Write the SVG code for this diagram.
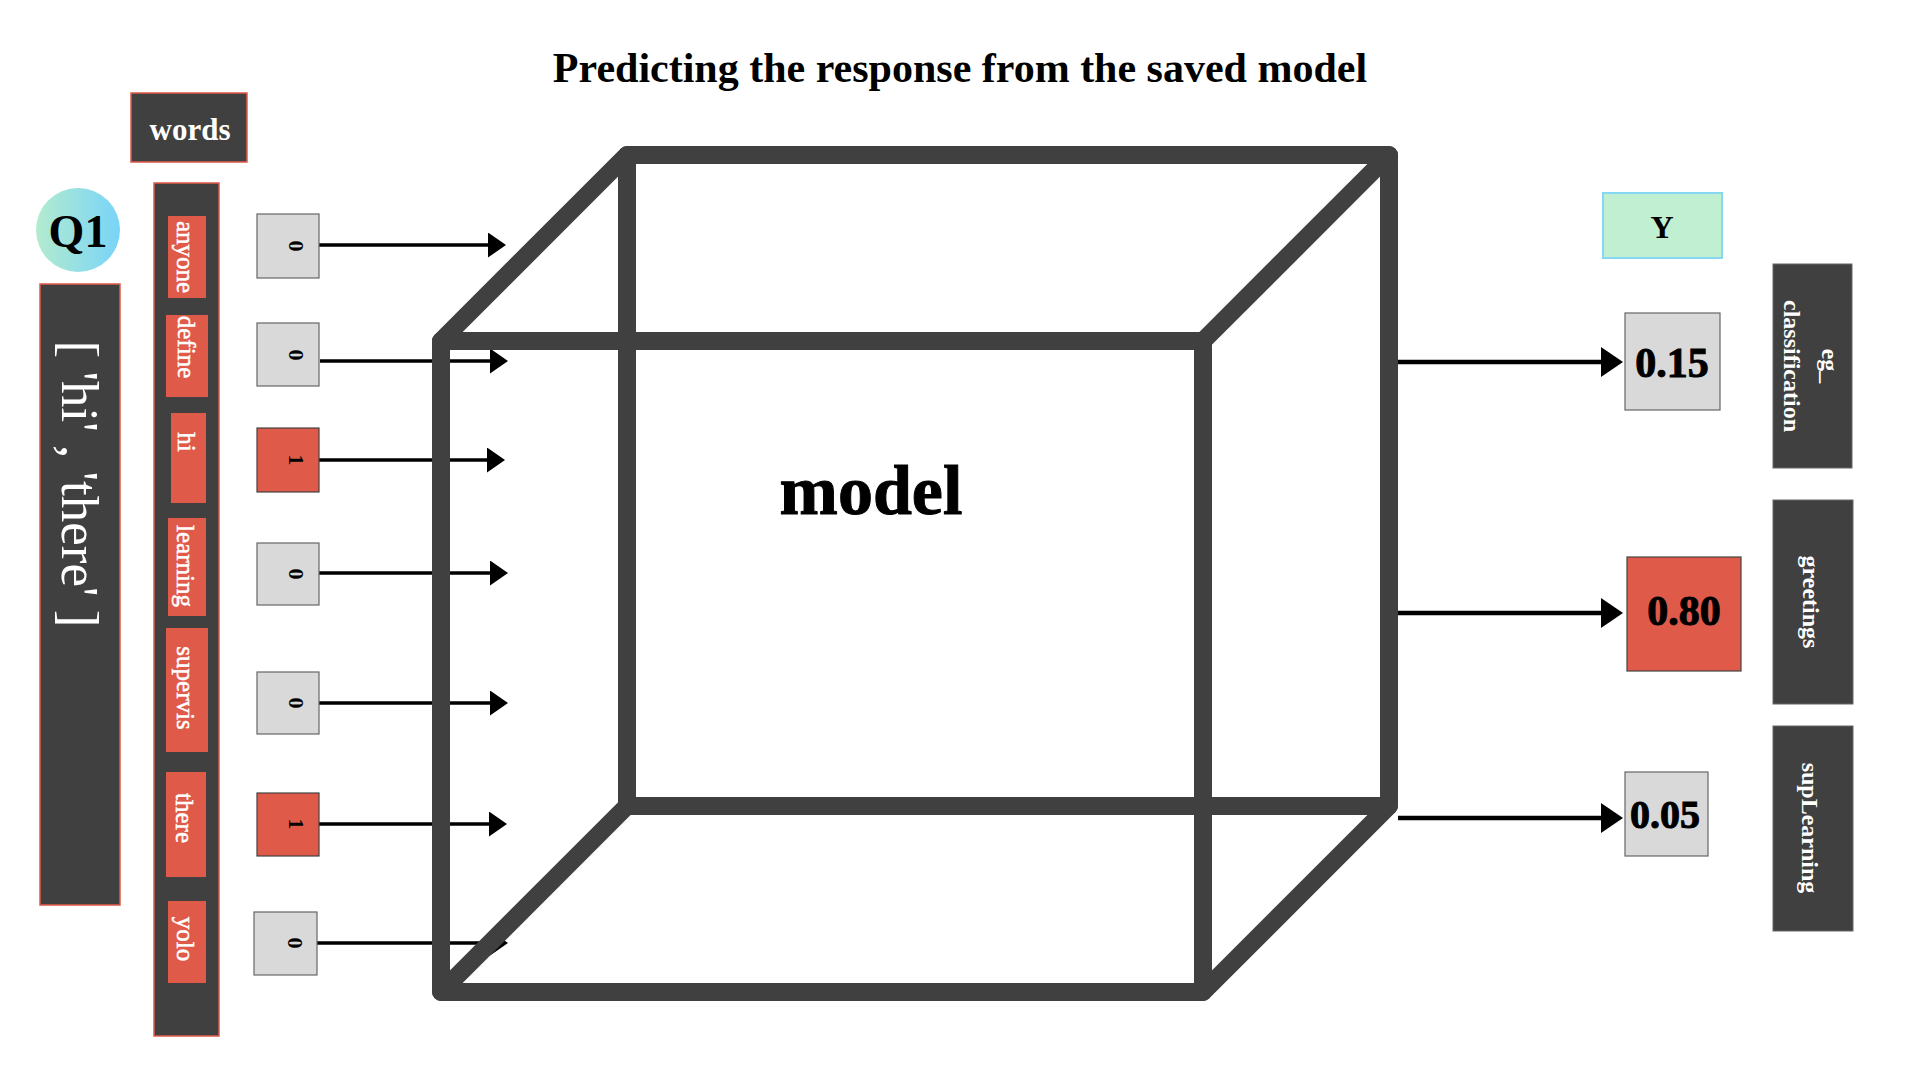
<svg xmlns="http://www.w3.org/2000/svg" width="1920" height="1080" viewBox="0 0 1920 1080">
<style>
.serif{font-family:"Liberation Serif","Times New Roman",serif}
.b{font-weight:bold}
.w{fill:#ffffff}
.k{fill:#000000}
.tg{stroke:#ffffff;stroke-width:0.5}
.num{stroke:#000000;stroke-width:1}
.dark{fill:#404040;stroke:#e05a4a;stroke-width:1.5}
.lab{fill:#404040;stroke:#666666;stroke-width:1}
.tag{fill:#e05a4a;stroke:none}
.gbox{fill:#d9d9d9;stroke:#666666;stroke-width:1.2}
.rbox{fill:#e05a4a;stroke:#444444;stroke-width:1.2}
.in{stroke:#000;stroke-width:3.5;fill:none;marker-end:url(#ah1)}
.out{stroke:#000;stroke-width:4.5;fill:none;marker-end:url(#ah2)}
.cube{stroke:#404040;stroke-width:18;fill:none;stroke-linejoin:round;stroke-linecap:round}
</style>
<defs>
<marker id="ah1" markerUnits="userSpaceOnUse" markerWidth="18" markerHeight="25" refX="12" refY="12.5" orient="auto">
<path d="M0,0 L18,12.5 L0,25 z" fill="#000"/>
</marker>
<marker id="ah2" markerUnits="userSpaceOnUse" markerWidth="22" markerHeight="30" refX="16" refY="15" orient="auto">
<path d="M0,0 L22,15 L0,30 z" fill="#000"/>
</marker>
<linearGradient id="q1g" x1="0" y1="0" x2="1" y2="0">
<stop offset="0" stop-color="#b3ebcf"/>
<stop offset="1" stop-color="#79d4f8"/>
</linearGradient>
</defs>
<rect width="1920" height="1080" fill="#ffffff"/>

<text id="title" class="serif b k" x="960" y="82" font-size="42" text-anchor="middle">Predicting the response from the saved model</text>

<g id="connectors">
<path class="in" d="M319,245 H500"/>
<path class="in" d="M320,361 H502"/>
<path class="in" d="M319,460 H499"/>
<path class="in" d="M319,573 H502"/>
<path class="in" d="M319,703 H502"/>
<path class="in" d="M319,824 H501"/>
<path class="in" d="M317,943 H502"/>
<path class="out" d="M1398,362 H1617"/>
<path class="out" d="M1398,613 H1617"/>
<path class="out" d="M1398,818 H1617"/>
</g>

<g id="model">
<path class="cube" d="M627,155 H1389 V806 H627 Z"/>
<path class="cube" d="M441,341 H1203 V992 H441 Z"/>
<path class="cube" d="M441,341 L627,155 M1203,341 L1389,155 M441,992 L627,806 M1203,992 L1389,806"/>
<text class="serif b k num" x="871" y="514" font-size="70" text-anchor="middle">model</text>
</g>

<g id="q1">
<circle cx="78" cy="230" r="42" fill="url(#q1g)"/>
<text class="serif b k" x="78" y="247" font-size="46" text-anchor="middle">Q1</text>
</g>

<g id="query">
<rect class="dark" x="40" y="284" width="80" height="621"/>
<text class="serif w" font-size="52" text-anchor="middle" textLength="287" lengthAdjust="spacingAndGlyphs" transform="translate(62,484) rotate(90)">[ 'hi' , 'there' ]</text>
</g>

<g id="words-header">
<rect class="dark" x="131" y="93" width="116" height="69"/>
<text class="serif b w" x="190" y="140" font-size="31" text-anchor="middle">words</text>
</g>

<g id="words">
<rect class="dark" x="154" y="183" width="65" height="853"/>
<rect class="tag" x="168" y="216" width="38" height="82"/>
<text class="serif w tg" font-size="25" text-anchor="middle" transform="translate(177,257) rotate(90)">anyone</text>
<rect class="tag" x="166" y="315" width="42" height="82"/>
<text class="serif w tg" font-size="25" text-anchor="middle" transform="translate(178,347) rotate(90)">define</text>
<rect class="tag" x="171" y="413" width="35" height="90"/>
<text class="serif w tg" font-size="25" text-anchor="middle" transform="translate(178,442) rotate(90)">hi</text>
<rect class="tag" x="168" y="518" width="38" height="98"/>
<text class="serif w tg" font-size="25" text-anchor="middle" transform="translate(177,566) rotate(90)">learning</text>
<rect class="tag" x="166" y="628" width="42" height="124"/>
<text class="serif w tg" font-size="25" text-anchor="middle" transform="translate(177,688) rotate(90)">supervis</text>
<rect class="tag" x="166" y="772" width="40" height="105"/>
<text class="serif w tg" font-size="25" text-anchor="middle" transform="translate(176,818) rotate(90)">there</text>
<rect class="tag" x="168" y="901" width="38" height="82"/>
<text class="serif w tg" font-size="25" text-anchor="middle" transform="translate(177,939) rotate(90)">yolo</text>
</g>

<g id="x1"><rect class="gbox" x="257" y="214" width="62" height="64"/><text class="serif b k" font-size="22" text-anchor="middle" transform="translate(289,246) rotate(90)">0</text></g>
<g id="x2"><rect class="gbox" x="257" y="323" width="62" height="63"/><text class="serif b k" font-size="22" text-anchor="middle" transform="translate(289,355) rotate(90)">0</text></g>
<g id="x3"><rect class="rbox" x="257" y="428" width="62" height="64"/><text class="serif b k" font-size="22" text-anchor="middle" transform="translate(289,460) rotate(90)">1</text></g>
<g id="x4"><rect class="gbox" x="257" y="543" width="62" height="62"/><text class="serif b k" font-size="22" text-anchor="middle" transform="translate(289,574) rotate(90)">0</text></g>
<g id="x5"><rect class="gbox" x="257" y="672" width="62" height="62"/><text class="serif b k" font-size="22" text-anchor="middle" transform="translate(289,703) rotate(90)">0</text></g>
<g id="x6"><rect class="rbox" x="257" y="793" width="62" height="63"/><text class="serif b k" font-size="22" text-anchor="middle" transform="translate(289,824) rotate(90)">1</text></g>
<g id="x7"><rect class="gbox" x="254" y="912" width="63" height="63"/><text class="serif b k" font-size="22" text-anchor="middle" transform="translate(288,943) rotate(90)">0</text></g>

<g id="y-header">
<rect x="1603" y="193" width="119" height="65" fill="#c0efd2" stroke="#86d8f2" stroke-width="2"/>
<text class="serif b k" x="1662" y="238" font-size="32" text-anchor="middle">Y</text>
</g>

<g id="y1"><rect class="gbox" x="1625" y="313" width="95" height="97"/><text class="serif b k num" x="1672" y="377" font-size="42" text-anchor="middle">0.15</text></g>
<g id="y2"><rect class="rbox" x="1627" y="557" width="114" height="114"/><text class="serif b k num" x="1684" y="625" font-size="42" text-anchor="middle">0.80</text></g>
<g id="y3"><rect class="gbox" x="1625" y="772" width="83" height="84"/><text class="serif b k num" x="1665" y="828" font-size="40" text-anchor="middle">0.05</text></g>

<g id="c1">
<rect class="lab" x="1773" y="264" width="79" height="204"/>
<text class="serif b w" font-size="24" text-anchor="middle" transform="translate(1822,366) rotate(90)">eg_</text>
<text class="serif b w" font-size="24" text-anchor="middle" transform="translate(1784,366) rotate(90)">classification</text>
</g>
<g id="c2">
<rect class="lab" x="1773" y="500" width="80" height="204"/>
<text class="serif b w" font-size="24" text-anchor="middle" transform="translate(1803,602) rotate(90)">greetings</text>
</g>
<g id="c3">
<rect class="lab" x="1773" y="726" width="80" height="205"/>
<text class="serif b w" font-size="24" text-anchor="middle" transform="translate(1802,828) rotate(90)">supLearning</text>
</g>
</svg>
